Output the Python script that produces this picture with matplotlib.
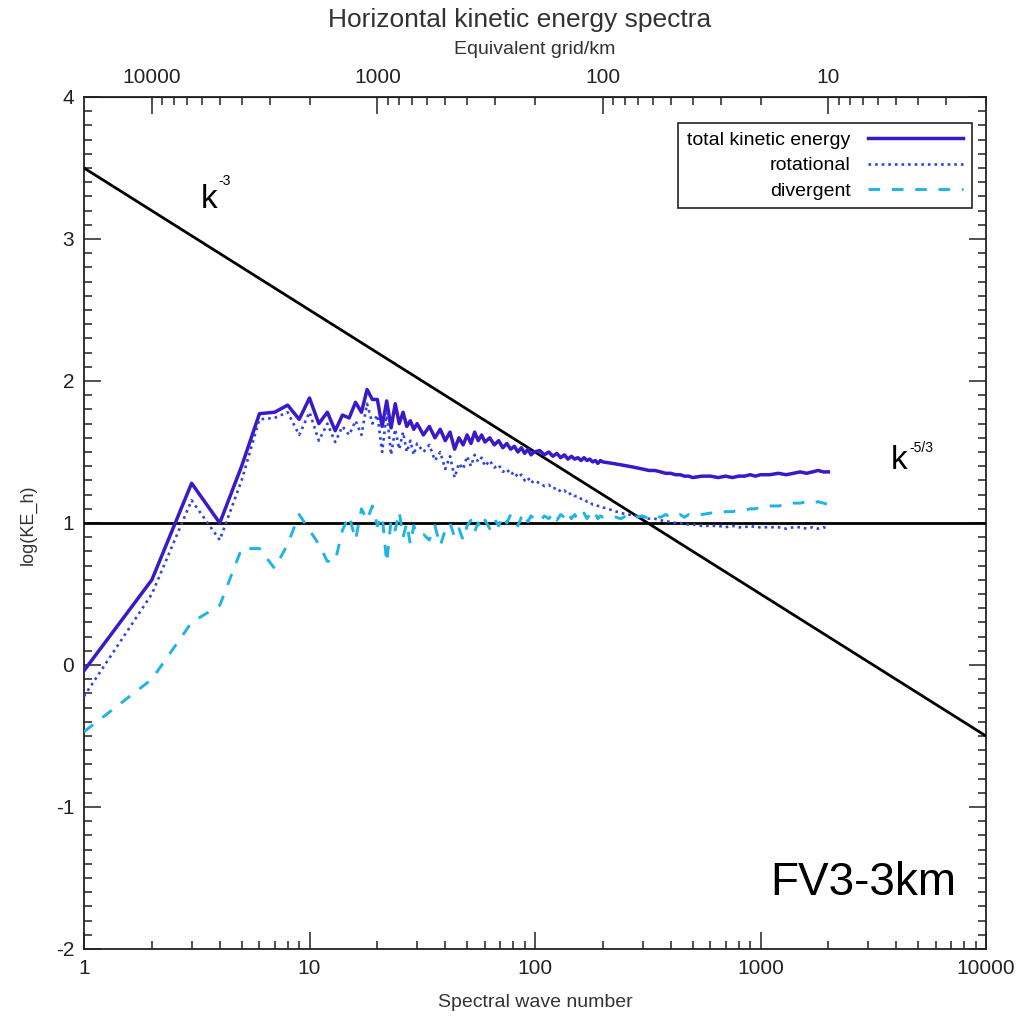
import numpy as np
import matplotlib
matplotlib.use('Agg')
import matplotlib.pyplot as plt
from matplotlib.ticker import FuncFormatter, NullFormatter, MultipleLocator, FixedLocator

plt.rcParams['font.family'] = ['Liberation Sans', 'DejaVu Sans']

# spectral wave number
wavenumber = [1, 2, 3, 4, 5, 6, 7, 8, 9, 10,
              11, 12, 13, 14, 15, 16, 17, 18, 19, 20,
              21, 22, 23, 24, 25, 26, 27, 28, 29, 30,
              32, 34, 36, 38, 40, 42, 44, 46, 48, 50, 52, 54, 56, 58, 60,
              63, 66, 69, 72, 75, 78, 81, 84, 87, 90, 93, 96, 99,
              105, 110, 115, 120, 125, 130, 135, 140, 145, 150,
              155, 160, 165, 170, 175, 180, 185, 190, 195, 200,
              220, 240, 260, 280, 300, 320, 340, 360, 380, 400, 420, 440, 460, 480, 500,
              550, 600, 650, 700, 750, 800, 850, 900, 950, 1000,
              1100, 1200, 1300, 1400, 1500, 1600, 1700, 1800, 1900, 2000]

# log(KE_h)
ke_total = [-0.04, 0.60, 1.28, 1.00, 1.40, 1.77, 1.78, 1.83, 1.73, 1.88,
            1.70, 1.78, 1.65, 1.76, 1.74, 1.85, 1.78, 1.94, 1.87, 1.87,
            1.68, 1.86, 1.67, 1.84, 1.70, 1.78, 1.68, 1.72, 1.66, 1.70,
            1.62, 1.68, 1.60, 1.66, 1.58, 1.64, 1.52, 1.60, 1.55, 1.62, 1.56, 1.64, 1.58, 1.62, 1.57,
            1.60, 1.55, 1.58, 1.53, 1.56, 1.52, 1.54, 1.50, 1.53, 1.49, 1.52, 1.48, 1.50,
            1.51, 1.48, 1.50, 1.47, 1.49, 1.46, 1.48, 1.45, 1.47, 1.45,
            1.46, 1.44, 1.46, 1.44, 1.45, 1.43, 1.44, 1.42, 1.44, 1.43,
            1.42, 1.41, 1.40, 1.39, 1.38, 1.37, 1.37, 1.36, 1.35, 1.35, 1.34, 1.34, 1.33, 1.33, 1.32,
            1.33, 1.33, 1.32, 1.33, 1.32, 1.33, 1.33, 1.34, 1.33, 1.34,
            1.34, 1.35, 1.34, 1.35, 1.36, 1.35, 1.36, 1.37, 1.36, 1.36]

ke_rot = [-0.22, 0.50, 1.16, 0.88, 1.30, 1.73, 1.74, 1.78, 1.62, 1.78,
          1.58, 1.70, 1.57, 1.68, 1.62, 1.72, 1.62, 1.84, 1.70, 1.76,
          1.50, 1.78, 1.48, 1.66, 1.52, 1.64, 1.50, 1.58, 1.48, 1.56,
          1.50, 1.55, 1.44, 1.50, 1.38, 1.47, 1.32, 1.42, 1.38, 1.47, 1.40, 1.48, 1.43, 1.46, 1.40,
          1.44, 1.39, 1.41, 1.36, 1.38, 1.34, 1.36, 1.32, 1.34, 1.30, 1.32, 1.28, 1.30,
          1.28, 1.26, 1.27, 1.24, 1.25, 1.22, 1.23, 1.20, 1.21, 1.19,
          1.19, 1.17, 1.17, 1.15, 1.15, 1.13, 1.13, 1.12, 1.12, 1.11,
          1.09, 1.07, 1.06, 1.05, 1.04, 1.03, 1.03, 1.02, 1.01, 1.01, 1.00, 1.00, 0.99, 0.99, 0.99,
          0.98, 0.98, 0.98, 0.97, 0.98, 0.97, 0.97, 0.98, 0.97, 0.97,
          0.97, 0.97, 0.96, 0.97, 0.97, 0.96, 0.97, 0.96, 0.97, 0.96]

ke_div = [-0.47, -0.10, 0.30, 0.42, 0.82, 0.82, 0.68, 0.85, 1.06, 0.95,
          0.85, 0.73, 0.73, 0.95, 1.05, 0.88, 1.10, 1.02, 1.12, 0.98,
          1.05, 0.72, 1.02, 0.95, 1.08, 0.90, 1.00, 0.85, 0.98, 0.92,
          0.92, 0.88, 0.98, 0.84, 0.95, 1.00, 0.90, 0.96, 0.88, 0.98, 1.02, 0.94, 1.00, 0.96, 1.02,
          0.96, 1.03, 0.98, 1.05, 1.00, 1.06, 1.02, 0.98, 1.04, 1.07, 1.01, 1.05, 1.03,
          1.01, 1.05, 1.03, 1.07, 1.02, 1.06, 1.04, 1.08, 1.03, 1.06,
          1.02, 1.05, 1.07, 1.03, 1.06, 1.04, 1.07, 1.03, 1.05, 1.04,
          1.05, 1.03, 1.06, 1.04, 1.05, 1.03, 1.05, 1.04, 1.06, 1.04, 1.05, 1.06, 1.04, 1.06, 1.05,
          1.06, 1.07, 1.07, 1.08, 1.08, 1.09, 1.09, 1.10, 1.10, 1.11,
          1.12, 1.12, 1.13, 1.14, 1.14, 1.15, 1.14, 1.15, 1.14, 1.13]

# reference slopes
ref_k = [1, 10000]
ref_steep = [3.5, -0.5]
ref_flat = [1.0, 1.0]

# top axis ticks (km)
grid_major = [10, 100, 1000, 10000]


def k2km(k):
    k = np.asarray(k, dtype=float)
    with np.errstate(divide='ignore'):
        return 20000.0 / k


fig = plt.figure(figsize=(10.28, 10.31), dpi=100)
ax = fig.add_axes([84 / 1028, 1 - 949 / 1031, 902 / 1028, 852 / 1031])

ax.plot(ref_k, ref_steep, color='black', lw=2.0, zorder=3)
ax.plot(ref_k, ref_flat, color='black', lw=2.0, zorder=3)
ax.plot(wavenumber, ke_total, color='#3a1ac8', lw=2.5, label='total kinetic energy', zorder=4)
ax.plot(wavenumber, ke_rot, color='#2f45e0', lw=1.9, ls=(0, (1, 1.5)), label='rotational', zorder=4)
ax.plot(wavenumber, ke_div, color='#1fb4e6', lw=2.1, ls=(0, (4, 4)), label='divergent', zorder=4)

ax.set_xscale('log')
ax.set_xlim(1, 10000)
ax.set_ylim(-2, 4)
ax.yaxis.set_major_locator(MultipleLocator(1))
ax.yaxis.set_minor_locator(MultipleLocator(0.1))
ax.xaxis.set_major_formatter(FuncFormatter(lambda v, p: '%g' % v))
ax.xaxis.set_minor_formatter(NullFormatter())
ax.yaxis.set_major_formatter(FuncFormatter(lambda v, p: '%g' % v))

ax.tick_params(which='both', direction='in', top=False, right=True, width=1.1, colors='#222222')
ax.tick_params(which='major', length=12, pad=7, labelsize=15)
ax.tick_params(which='minor', length=6)
for sp in ax.spines.values():
    sp.set_linewidth(1.3)
    sp.set_color('#222222')

sec = ax.secondary_xaxis('top', functions=(k2km, k2km))
sec.xaxis.set_major_locator(FixedLocator(grid_major))
sec.xaxis.set_minor_locator(FixedLocator([m * d for d in (1, 10, 100, 1000) for m in range(2, 10)]))
sec.xaxis.set_major_formatter(FuncFormatter(lambda v, p: '%g' % v))
sec.xaxis.set_minor_formatter(NullFormatter())
sec.tick_params(which='both', direction='in', width=1.1, colors='#222222')
sec.tick_params(which='major', length=12, pad=7, labelsize=15)
sec.tick_params(which='minor', length=6)

ax.set_xlabel('Spectral wave number', fontsize=14, color='#333333', labelpad=12)
fig.text(28 / 1028, 1 - 525 / 1031, 'log(KE_h)', rotation=90, ha='center', va='center',
         fontsize=13, color='#333333')
fig.text(520 / 1028, 1 - 20 / 1031, 'Horizontal kinetic energy spectra', ha='center', va='center',
         fontsize=19, color='#333333')
fig.text(535 / 1028, 1 - 49 / 1031, 'Equivalent grid/km', ha='center', va='center',
         fontsize=14, color='#333333')

# slope labels
ax.text(3.3, 3.22, 'k', fontsize=24, ha='left', va='baseline')
ax.text(3.95, 3.41, '-3', fontsize=10, ha='left', va='center')
ax.text(3800, 1.38, 'k', fontsize=24, ha='left', va='baseline')
ax.text(4550, 1.53, '-5/3', fontsize=10, ha='left', va='center')
ax.text(1100, -1.62, 'FV3-3km', fontsize=33, ha='left', va='baseline')

leg = ax.legend(loc='upper right', bbox_to_anchor=(0.9845, 0.97), borderaxespad=0,
                markerfirst=False, fontsize=14, handlelength=4.9, handletextpad=0.9,
                labelspacing=0.4, borderpad=0.45, fancybox=False, framealpha=1,
                edgecolor='#222222')
leg.get_frame().set_linewidth(1.2)

fig.savefig('out.png', dpi=100)
